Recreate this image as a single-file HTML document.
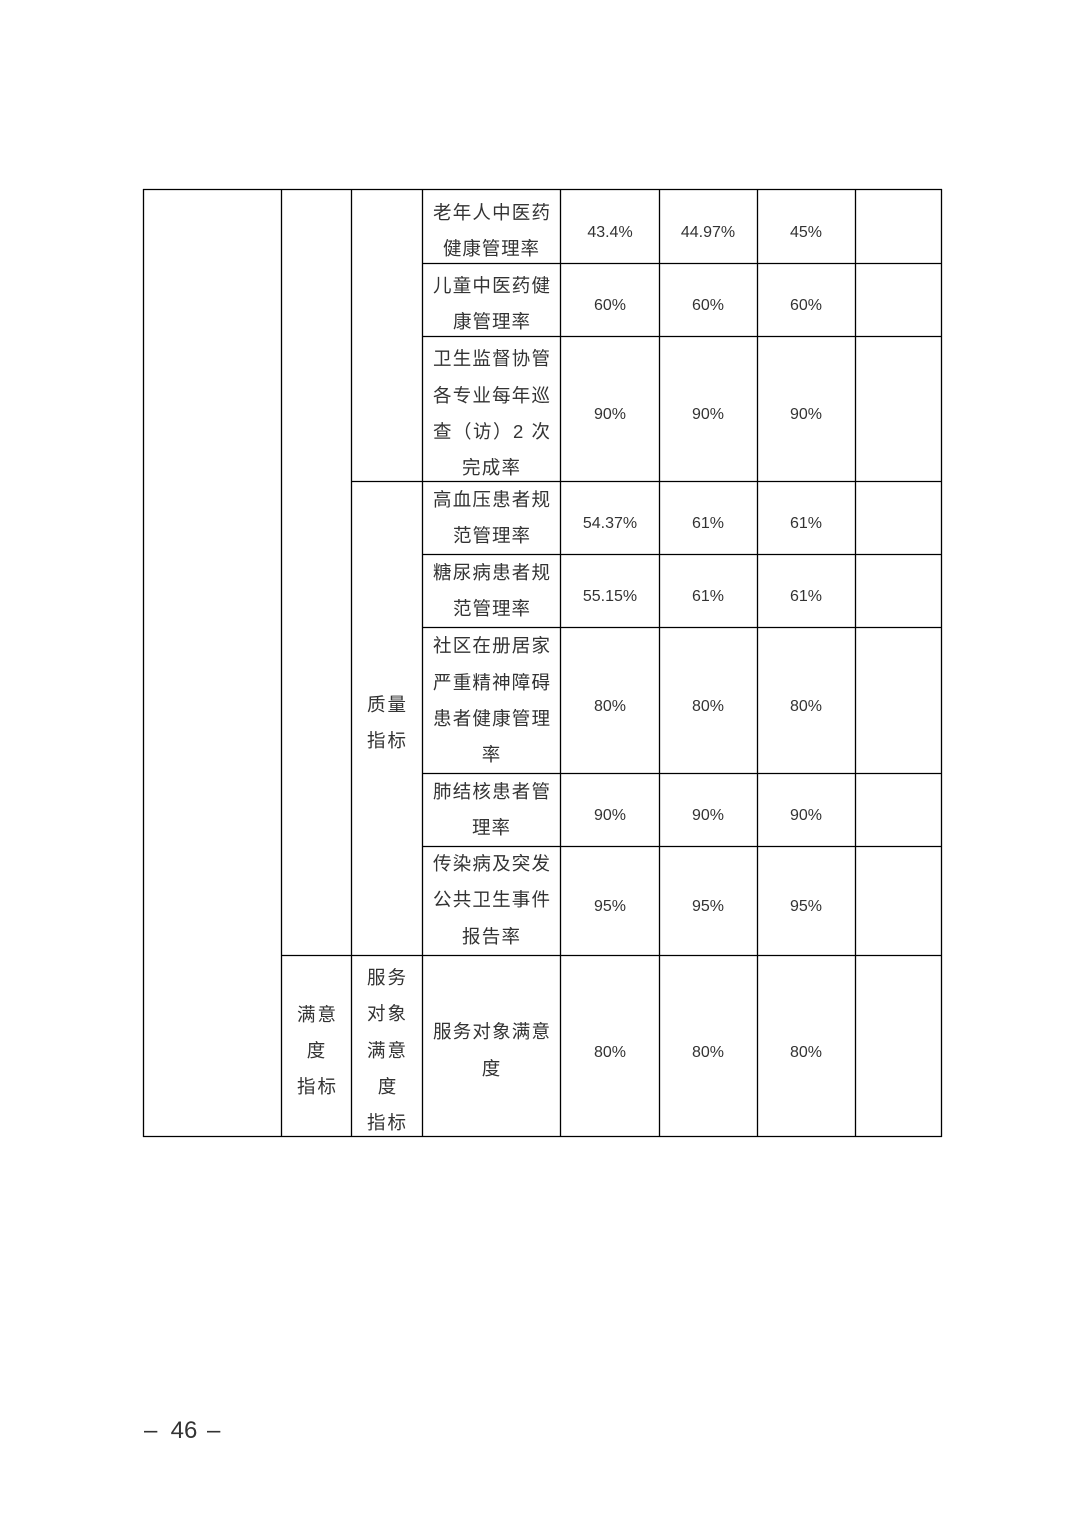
<!DOCTYPE html>
<html><head><meta charset="utf-8"><style>
html,body{margin:0;padding:0;background:#fff;}
svg{display:block;}
text{font-family:"Liberation Sans","Noto Sans CJK SC",sans-serif;fill:#333;}
.c{font-size:18.5px;}
.n{font-size:16px;}
</style></head><body>
<svg width="1074" height="1520" xmlns="http://www.w3.org/2000/svg">
<g stroke="#000" stroke-width="1.3" fill="none">
<line x1="143" y1="189.5" x2="942" y2="189.5"/>
<line x1="143" y1="1136.5" x2="942" y2="1136.5"/>
<line x1="143.5" y1="189" x2="143.5" y2="1137"/>
<line x1="281.5" y1="189" x2="281.5" y2="1137"/>
<line x1="351.5" y1="189" x2="351.5" y2="1137"/>
<line x1="422.5" y1="189" x2="422.5" y2="1137"/>
<line x1="560.5" y1="189" x2="560.5" y2="1137"/>
<line x1="659.5" y1="189" x2="659.5" y2="1137"/>
<line x1="757.5" y1="189" x2="757.5" y2="1137"/>
<line x1="855.5" y1="189" x2="855.5" y2="1137"/>
<line x1="941.5" y1="189" x2="941.5" y2="1137"/>
<line x1="422" y1="263.5" x2="942" y2="263.5"/>
<line x1="422" y1="336.5" x2="942" y2="336.5"/>
<line x1="351" y1="481.5" x2="942" y2="481.5"/>
<line x1="422" y1="554.5" x2="942" y2="554.5"/>
<line x1="422" y1="627.5" x2="942" y2="627.5"/>
<line x1="422" y1="773.5" x2="942" y2="773.5"/>
<line x1="422" y1="846.5" x2="942" y2="846.5"/>
<line x1="281" y1="955.5" x2="942" y2="955.5"/>
</g>
<g class="c">
<text x="433" y="219" textLength="117" lengthAdjust="spacing">老年人中医药</text>
<text x="443" y="255" textLength="96" lengthAdjust="spacing">健康管理率</text>
<text x="433" y="292" textLength="117" lengthAdjust="spacing">儿童中医药健</text>
<text x="453" y="328" textLength="77" lengthAdjust="spacing">康管理率</text>
<text x="433" y="365" textLength="117" lengthAdjust="spacing">卫生监督协管</text>
<text x="433" y="402" textLength="117" lengthAdjust="spacing">各专业每年巡</text>
<text x="433" y="438" textLength="117" lengthAdjust="spacing">查（访）2 次</text>
<text x="462" y="474" textLength="58" lengthAdjust="spacing">完成率</text>
<text x="433" y="506" textLength="117" lengthAdjust="spacing">高血压患者规</text>
<text x="453" y="542" textLength="77" lengthAdjust="spacing">范管理率</text>
<text x="433" y="579" textLength="117" lengthAdjust="spacing">糖尿病患者规</text>
<text x="453" y="615" textLength="77" lengthAdjust="spacing">范管理率</text>
<text x="433" y="652" textLength="117" lengthAdjust="spacing">社区在册居家</text>
<text x="433" y="689" textLength="117" lengthAdjust="spacing">严重精神障碍</text>
<text x="433" y="725" textLength="117" lengthAdjust="spacing">患者健康管理</text>
<text x="491" y="761" text-anchor="middle">率</text>
<text x="472" y="834" textLength="38" lengthAdjust="spacing">理率</text>
<text x="433" y="798" textLength="117" lengthAdjust="spacing">肺结核患者管</text>
<text x="433" y="870" textLength="117" lengthAdjust="spacing">传染病及突发</text>
<text x="433" y="906" textLength="117" lengthAdjust="spacing">公共卫生事件</text>
<text x="462" y="943" textLength="58" lengthAdjust="spacing">报告率</text>
<text x="433" y="1038" textLength="117" lengthAdjust="spacing">服务对象满意</text>
<text x="491" y="1075" text-anchor="middle">度</text>
<text x="367" y="711" textLength="39" lengthAdjust="spacing">质量</text>
<text x="367" y="747" textLength="39" lengthAdjust="spacing">指标</text>
<text x="297" y="1021" textLength="39" lengthAdjust="spacing">满意</text>
<text x="316" y="1057" text-anchor="middle">度</text>
<text x="297" y="1093" textLength="39" lengthAdjust="spacing">指标</text>
<text x="367" y="984" textLength="39" lengthAdjust="spacing">服务</text>
<text x="367" y="1020" textLength="39" lengthAdjust="spacing">对象</text>
<text x="367" y="1057" textLength="39" lengthAdjust="spacing">满意</text>
<text x="387" y="1093" text-anchor="middle">度</text>
<text x="367" y="1129" textLength="39" lengthAdjust="spacing">指标</text>
</g>
<g class="n" text-anchor="middle">
<text x="610" y="237">43.4%</text><text x="708" y="237">44.97%</text><text x="806" y="237">45%</text>
<text x="610" y="310">60%</text><text x="708" y="310">60%</text><text x="806" y="310">60%</text>
<text x="610" y="419">90%</text><text x="708" y="419">90%</text><text x="806" y="419">90%</text>
<text x="610" y="528">54.37%</text><text x="708" y="528">61%</text><text x="806" y="528">61%</text>
<text x="610" y="601">55.15%</text><text x="708" y="601">61%</text><text x="806" y="601">61%</text>
<text x="610" y="711">80%</text><text x="708" y="711">80%</text><text x="806" y="711">80%</text>
<text x="610" y="820">90%</text><text x="708" y="820">90%</text><text x="806" y="820">90%</text>
<text x="610" y="911">95%</text><text x="708" y="911">95%</text><text x="806" y="911">95%</text>
<text x="610" y="1057">80%</text><text x="708" y="1057">80%</text><text x="806" y="1057">80%</text>
</g>
<g style="font-size:24px">
<text x="144" y="1438">–</text>
<text x="184" y="1438" text-anchor="middle">46</text>
<text x="207" y="1438">–</text>
</g>
</svg>
</body></html>
